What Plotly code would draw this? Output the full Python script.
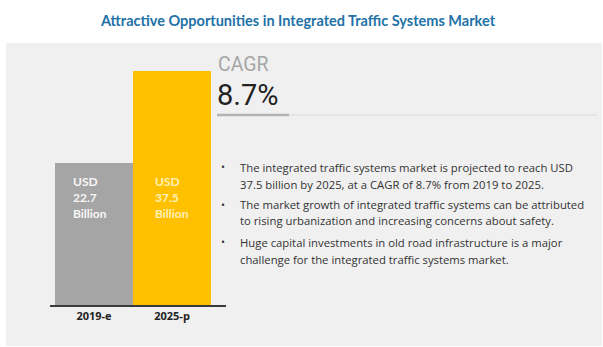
import plotly.graph_objects as go

W, H = 603, 347

# ---- data ----
categories = ["2019-e", "2025-p"]
values = [22.7, 37.5]
bar_colors = ["#a5a5a5", "#ffc000"]
bar_label_lines = [["USD", "22.7", "Billion"], ["USD", "37.5", "Billion"]]
bar_label_colors = ["#f7f7f7", "#fff1b8"]
title_text = "Attractive Opportunities in Integrated Traffic Systems Market"
cagr_label = "CAGR"
cagr_value = "8.7%"
bullets = [
    ["The integrated traffic systems market is projected to reach USD",
     "37.5 billion by 2025, at a CAGR of 8.7% from 2019 to 2025."],
    ["The market growth of integrated traffic systems can be attributed",
     "to rising urbanization and increasing concerns about safety."],
    ["Huge capital investments in old road infrastructure is a major",
     "challenge for the integrated traffic systems market."],
]


def px(x):
    return x / W


def py(y):
    return (H - y) / H


fig = go.Figure()
fig.add_trace(go.Bar(
    x=categories, y=values, marker=dict(color=bar_colors, line=dict(width=0)),
    hoverinfo="skip", showlegend=False,
))

shapes = [
    dict(type="rect", xref="paper", yref="paper", x0=px(6), x1=px(602), y0=py(346), y1=py(43),
         fillcolor="#f0f0f0", line=dict(width=0), layer="below"),
    dict(type="line", xref="paper", yref="paper", x0=px(289), x1=px(597), y0=py(115), y1=py(115),
         line=dict(color="#d9d9d9", width=1.2)),
    dict(type="line", xref="paper", yref="paper", x0=px(217), x1=px(289), y0=py(115), y1=py(115),
         line=dict(color="#b3b3b3", width=2.5)),
]

annotations = [
    dict(text=f"<b>{title_text}</b>", xref="paper", yref="paper", x=px(298), y=py(21),
         showarrow=False, xanchor="center", yanchor="middle",
         font=dict(family="Lato", size=14.5, color="#2272a8")),
    dict(text=cagr_label, xref="paper", yref="paper", x=px(216), y=py(65),
         showarrow=False, xanchor="left", yanchor="middle",
         font=dict(family="Roboto", size=19.5, color="#a6a6a6")),
    dict(text=cagr_value, xref="paper", yref="paper", x=px(215), y=py(95),
         showarrow=False, xanchor="left", yanchor="middle",
         font=dict(family="Roboto", size=29, color="#222222")),
]

# bar labels
label_x_offsets = [16, 20]
label_y = [181, 197, 213]
for i, cat in enumerate(categories):
    for j, line in enumerate(bar_label_lines[i]):
        annotations.append(dict(
            text=f"<b>{line}</b>", xref="x", yref="paper", x=i - 0.5, y=py(label_y[j]),
            xshift=label_x_offsets[i], showarrow=False, xanchor="left", yanchor="middle",
            font=dict(family="Lato", size=12, color=bar_label_colors[i]),
        ))

# bullets
bullet_line_y = [[167, 184], [205, 220], [242, 259]]
for b, lines in enumerate(bullets):
    annotations.append(dict(
        text="•", xref="paper", yref="paper", x=px(223), y=py(bullet_line_y[b][0]),
        showarrow=False, xanchor="center", yanchor="middle",
        font=dict(family="Open Sans", size=10.5, color="#333333")))
    for k, line in enumerate(lines):
        annotations.append(dict(
            text=line, xref="paper", yref="paper", x=px(238), y=py(bullet_line_y[b][k]),
            showarrow=False, xanchor="left", yanchor="middle",
            font=dict(family="Open Sans", size=11.3, color="#333333")))

fig.update_layout(
    width=W, height=H, margin=dict(l=0, r=0, t=0, b=0),
    paper_bgcolor="white", plot_bgcolor="rgba(0,0,0,0)",
    bargap=0, shapes=shapes, annotations=annotations,
    xaxis=dict(domain=[px(50), px(226)], range=[-0.564, 1.692], showline=True,
               linecolor="#3a3a3a", linewidth=1.5, showgrid=False, zeroline=False,
               ticks="", tickprefix="<b>", ticksuffix="</b>",
               tickfont=dict(family="Open Sans", size=11, color="#222222"),
               fixedrange=True),
    yaxis=dict(domain=[py(305), py(43)], range=[0, 41.92], visible=False, fixedrange=True),
)

fig.write_html("out.html")
